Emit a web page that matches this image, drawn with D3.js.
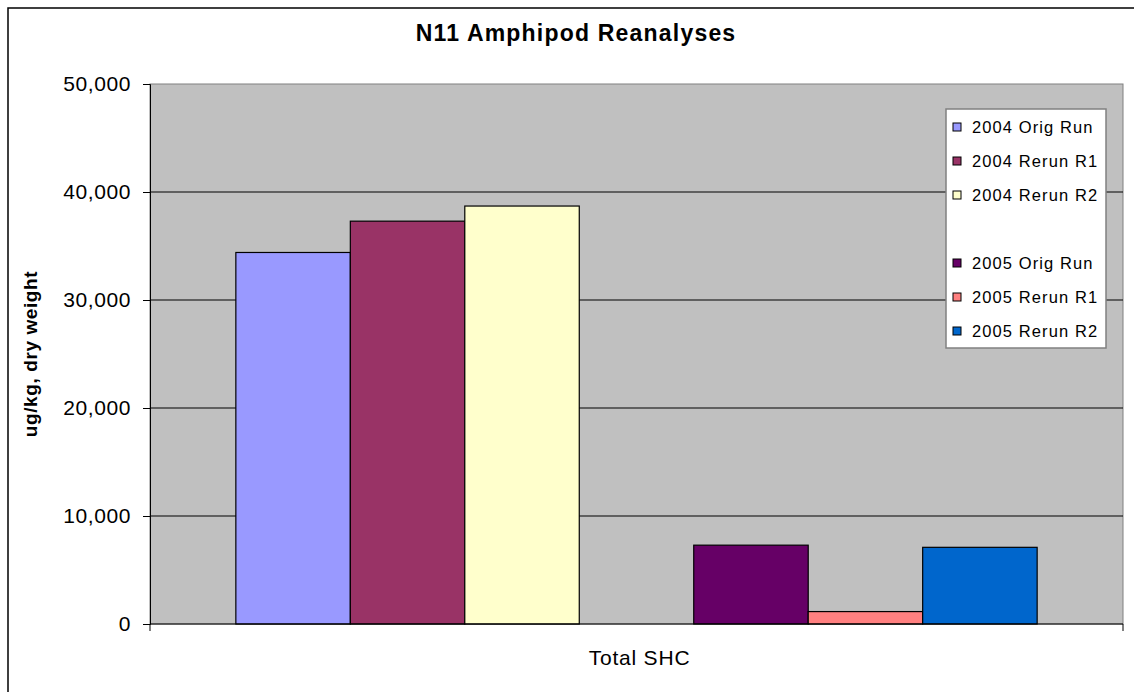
<!DOCTYPE html>
<html>
<head>
<meta charset="utf-8">
<script src="https://cdn.jsdelivr.net/npm/d3@7"></script>
<style>
  body { margin: 0; background: #fff; overflow: hidden; }
  text { font-family: Arial, "Liberation Sans", sans-serif; }
</style>
</head>
<body>
<div id="chart"></div>
<script>
// data, blank slot is the empty legend row
var category = "Total SHC";
var seriesNames = ["2004 Orig Run", "2004 Rerun R1", "2004 Rerun R2", "", "2005 Orig Run", "2005 Rerun R1", "2005 Rerun R2"];
var seriesValues = [34400, 37300, 38700, null, 7300, 1150, 7100];
var seriesColors = ["#9999FF", "#993366", "#FFFFCC", "none", "#660066", "#FF8080", "#0066CC"];
var yTicks = [0, 10000, 20000, 30000, 40000, 50000];

var width = 1134, height = 692;
var plot = {left: 150, right: 1123, top: 84, bottom: 624};

var svg = d3.select("#chart").append("svg")
  .attr("width", width)
  .attr("height", height);

// outer chart frame (runs off the right and bottom of the picture)
svg.append("rect")
  .attr("x", 8).attr("y", 8)
  .attr("width", 1140).attr("height", 700)
  .attr("fill", "#fff")
  .attr("stroke", "#000")
  .attr("stroke-width", 1.5);

var yScale = d3.scaleLinear().domain([0, 50000]).range([plot.bottom, plot.top]);
var xScale = d3.scaleBand()
  .domain(seriesNames.map(function(d, i) { return i; }))
  .range([plot.left, plot.right])
  .paddingInner(0)
  .paddingOuter(0.75);

// plot area
svg.append("rect")
  .attr("x", plot.left).attr("y", plot.top)
  .attr("width", plot.right - plot.left).attr("height", plot.bottom - plot.top)
  .attr("fill", "#C0C0C0")
  .attr("stroke", "#808080")
  .attr("stroke-width", 1);

// gridlines
svg.append("g").selectAll("line")
  .data(yTicks.filter(function(d) { return d > 0 && d < 50000; }))
  .enter().append("line")
  .attr("x1", plot.left).attr("x2", plot.right)
  .attr("y1", function(d) { return yScale(d); })
  .attr("y2", function(d) { return yScale(d); })
  .attr("stroke", "#000")
  .attr("stroke-width", 1);

// bars
svg.append("g").selectAll("rect")
  .data(seriesValues.map(function(v, i) { return {i: i, v: v}; }).filter(function(d) { return d.v !== null; }))
  .enter().append("rect")
  .attr("x", function(d) { return xScale(d.i); })
  .attr("y", function(d) { return yScale(d.v); })
  .attr("width", xScale.bandwidth())
  .attr("height", function(d) { return yScale(0) - yScale(d.v); })
  .attr("fill", function(d) { return seriesColors[d.i]; })
  .attr("stroke", "#000")
  .attr("stroke-width", 1.2);

// y axis
var yAxis = d3.axisLeft(yScale)
  .tickValues(yTicks)
  .tickFormat(d3.format(","))
  .tickSize(7)
  .tickPadding(12);
var gy = svg.append("g")
  .attr("transform", "translate(" + plot.left + ",0)")
  .call(yAxis);
gy.select(".domain").attr("stroke", "#000");
gy.selectAll("text")
  .attr("font-size", 21)
  .attr("fill", "#000")
  .style("letter-spacing", "0.6px");

// category axis
svg.append("line")
  .attr("x1", plot.left).attr("x2", plot.right)
  .attr("y1", plot.bottom).attr("y2", plot.bottom)
  .attr("stroke", "#000");
svg.append("g").selectAll("line")
  .data([plot.left, plot.right])
  .enter().append("line")
  .attr("x1", function(d) { return d; }).attr("x2", function(d) { return d; })
  .attr("y1", plot.bottom).attr("y2", plot.bottom + 7)
  .attr("stroke", "#000");
svg.append("text")
  .attr("x", (plot.left + plot.right) / 2 + 3)
  .attr("y", 665)
  .attr("text-anchor", "middle")
  .attr("font-size", 21)
  .style("letter-spacing", "0.8px")
  .text(category);

// title
svg.append("text")
  .attr("x", 576)
  .attr("y", 41)
  .attr("text-anchor", "middle")
  .attr("font-size", 23)
  .attr("font-weight", "bold")
  .style("letter-spacing", "1.2px")
  .text("N11 Amphipod Reanalyses");

// y axis title
svg.append("text")
  .attr("transform", "translate(37," + (plot.top + plot.bottom) / 2 + ") rotate(-90)")
  .attr("text-anchor", "middle")
  .attr("font-size", 19)
  .attr("font-weight", "bold")
  .style("letter-spacing", "0.6px")
  .text("ug/kg, dry weight");

// legend
var legend = svg.append("g");
legend.append("rect")
  .attr("x", 946).attr("y", 109)
  .attr("width", 160).attr("height", 239)
  .attr("fill", "#fff")
  .attr("stroke", "#808080")
  .attr("stroke-width", 1.5);
var items = legend.selectAll("g.item")
  .data(seriesNames.map(function(n, i) { return {n: n, i: i}; }).filter(function(d) { return d.n !== ""; }))
  .enter().append("g")
  .attr("class", "item")
  .attr("transform", function(d) { return "translate(953," + (127 + d.i * 34) + ")"; });
items.append("rect")
  .attr("x", 0).attr("y", -4)
  .attr("width", 8).attr("height", 8)
  .attr("fill", function(d) { return seriesColors[d.i]; })
  .attr("stroke", "#000");
items.append("text")
  .attr("x", 19).attr("y", 6)
  .attr("font-size", 16.5)
  .style("letter-spacing", "1.1px")
  .text(function(d) { return d.n; });
</script>
</body>
</html>
